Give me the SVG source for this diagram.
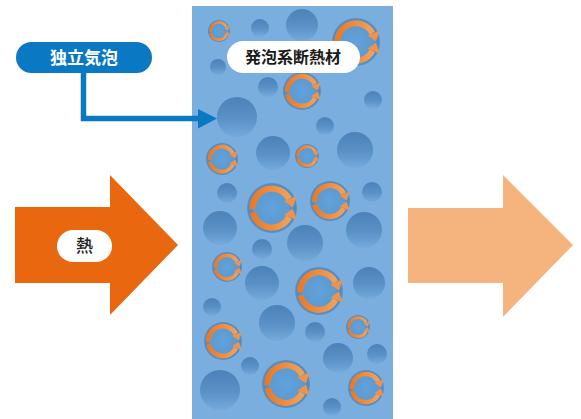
<svg xmlns="http://www.w3.org/2000/svg" xmlns:xlink="http://www.w3.org/1999/xlink" width="581" height="419" viewBox="0 0 581 419">
  <style>
    .jp { font-family: "Noto Sans CJK JP", "Noto Sans", sans-serif; text-anchor: middle; }
    .plain { fill: url(#gPlain); }
    .cyc { fill: none; stroke-width: 5; stroke-linecap: butt; }
    .cych { fill: #F0924A; }
  </style>
  <defs>
    <linearGradient id="gPlain" x1="0" y1="0" x2="0" y2="1">
      <stop offset="0" stop-color="#4A82B9"/>
      <stop offset="0.55" stop-color="#5A92C7"/>
      <stop offset="1" stop-color="#74AADB"/>
    </linearGradient>
    <radialGradient id="gRing" cx="0.5" cy="0.5" r="0.5">
      <stop offset="0" stop-color="#62A2DA"/>
      <stop offset="0.7" stop-color="#5C9AD1"/>
      <stop offset="0.9" stop-color="#5089C0"/>
      <stop offset="1" stop-color="#5B93C8"/>
    </radialGradient>
    <linearGradient id="gArc" x1="0" y1="0" x2="1" y2="0">
      <stop offset="0" stop-color="#E97A28"/>
      <stop offset="1" stop-color="#F2A05A"/>
    </linearGradient>
    <!-- bubble with two circulating arrows, drawn for radius 20 -->
    <g id="ring">
      <circle r="20" fill="url(#gRing)"/>
      <path class="cyc" d="M-15.5,1 A15.5,15.5 0 0 1 13.6,-7.4" stroke="url(#gArc)"/>
      <polygon class="cych" points="19.8,-9.6 16.6,-0.5 9.6,-5.6"/>
      <path class="cyc" d="M-15.3,3.5 A15.5,15.5 0 0 0 13.6,7.4" stroke="url(#gArc)"/>
      <polygon class="cych" points="19.8,9.6 16.6,0.5 9.6,5.6"/>
    </g>
  </defs>

  <rect width="581" height="419" fill="#FFFFFF"/>

  <!-- incoming heat -->
  <g id="heat-in">
    <polygon points="15,207 110,207 110,175 178,245 110,315 110,283 15,283" fill="#E9680F"/>
    <rect x="57" y="230" width="55" height="32" rx="16" fill="#FFFFFF"/>
    <text class="jp" x="84.5" y="252" font-size="17" font-weight="500" fill="#222222">熱</text>
  </g>

  <!-- outgoing heat -->
  <g id="heat-out">
    <polygon points="408,208 503,208 503,175 573,245 503,317 503,283 408,283" fill="#F5B47D"/>
  </g>

  <!-- foam insulation panel -->
  <g id="panel">
    <rect x="192" y="6" width="201" height="413" fill="#79AEDE"/>
    <g id="bubbles">
      <circle class="plain" cx="260" cy="28" r="9"/>
      <circle class="plain" cx="302" cy="25" r="16"/>
      <circle class="plain" cx="218" cy="67" r="8"/>
      <circle class="plain" cx="268" cy="87" r="10"/>
      <circle class="plain" cx="373" cy="100" r="9"/>
      <circle class="plain" cx="237" cy="117" r="20"/>
      <circle class="plain" cx="325" cy="126" r="9"/>
      <circle class="plain" cx="273" cy="153" r="17"/>
      <circle class="plain" cx="355" cy="150" r="18"/>
      <circle class="plain" cx="227" cy="193" r="10"/>
      <circle class="plain" cx="372" cy="192" r="10"/>
      <circle class="plain" cx="220" cy="228" r="17"/>
      <circle class="plain" cx="364" cy="230" r="18"/>
      <circle class="plain" cx="305" cy="243" r="18"/>
      <circle class="plain" cx="262" cy="249" r="10"/>
      <circle class="plain" cx="262" cy="283" r="17"/>
      <circle class="plain" cx="369" cy="283" r="16"/>
      <circle class="plain" cx="212" cy="307" r="9"/>
      <circle class="plain" cx="277" cy="323" r="18"/>
      <circle class="plain" cx="315" cy="332" r="10"/>
      <circle class="plain" cx="338" cy="358" r="15"/>
      <circle class="plain" cx="250" cy="366" r="9"/>
      <circle class="plain" cx="377" cy="354" r="10"/>
      <circle class="plain" cx="220" cy="390" r="20"/>
      <circle class="plain" cx="332" cy="407" r="9"/>

      <use xlink:href="#ring" transform="translate(219 31) scale(0.55)"/>
      <use xlink:href="#ring" transform="translate(356 42) scale(1.2)"/>
      <use xlink:href="#ring" transform="translate(302 91) scale(0.95)"/>
      <use xlink:href="#ring" transform="translate(222 159) scale(0.8)"/>
      <use xlink:href="#ring" transform="translate(307 156) scale(0.6)"/>
      <use xlink:href="#ring" transform="translate(272 208) scale(1.25)"/>
      <use xlink:href="#ring" transform="translate(330 201) scale(1)"/>
      <use xlink:href="#ring" transform="translate(227 267) scale(0.75)"/>
      <use xlink:href="#ring" transform="translate(319 291) scale(1.2)"/>
      <use xlink:href="#ring" transform="translate(358 327) scale(0.6)"/>
      <use xlink:href="#ring" transform="translate(223 341) scale(0.95)"/>
      <use xlink:href="#ring" transform="translate(286 384) scale(1.2)"/>
      <use xlink:href="#ring" transform="translate(366 388) scale(0.9)"/>
    </g>
    <rect x="227" y="41" width="133" height="32" rx="16" fill="#FFFFFF"/>
    <text class="jp" x="293" y="63" font-size="16" font-weight="700" fill="#1A1A1A">発泡系断熱材</text>
  </g>

  <!-- closed-cell callout -->
  <g id="closed-cell">
    <rect x="16" y="42" width="136" height="31" rx="15.5" fill="#0B78C3"/>
    <text class="jp" x="84" y="63.5" font-size="17" font-weight="700" fill="#FFFFFF">独立気泡</text>
  </g>

  <g id="connectors">
    <polyline points="83.5,73 83.5,118.5 200,118.5" fill="none" stroke="#0B78C3" stroke-width="5.5"/>
    <polygon points="198,109 217,118.5 198,128.5" fill="#0B78C3"/>
  </g>
</svg>
